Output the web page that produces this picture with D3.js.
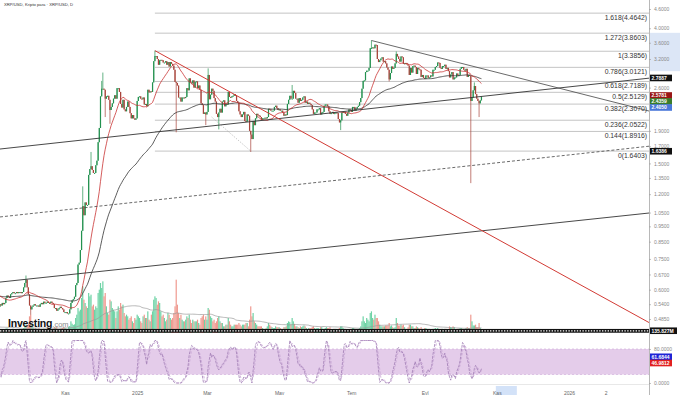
<!DOCTYPE html>
<html>
<head>
<meta charset="utf-8">
<script src="https://cdn.jsdelivr.net/npm/d3@7"></script>
<style>
  html, body { margin: 0; padding: 0; background: #fff; }
  svg { display: block; font-family: "Liberation Sans", Arial, sans-serif; }
</style>
</head>
<body>
<svg id="chart" width="680" height="395"></svg>
<script>
// daily closes from 2024-07-19 (first weeks sit left of the visible area, they feed the averages)
const startDate = "2024-07-19";
const closes = [
  // jul 19-31
  0.570,0.595,0.600,0.605,0.600,0.610,0.600,0.600,0.605,0.600,0.610,0.620,0.625,
  // aug
  0.570,0.560,0.530,0.520,0.500,0.520,0.550,0.620,0.580,0.570,
  0.550,0.570,0.570,0.570,0.560,0.570,0.580,0.600,0.600,0.600,
  0.600,0.590,0.610,0.600,0.590,0.590,0.570,0.570,0.560,0.560,0.560,
  // sep
  0.550,0.560,0.550,0.570,0.560,0.530,0.540,
  0.535,0.545,0.540,0.545,0.565,0.575,0.570,0.565,0.580,0.585,
  0.590,0.585,0.585,0.590,0.585,0.590,0.590,0.585,0.590,0.610,
  0.630,0.645,0.610,
  // oct
  0.580,0.535,0.520,0.530,0.535,0.540,0.535,0.535,0.535,0.530,
  0.540,0.545,0.540,0.550,0.545,0.545,0.550,0.545,0.545,0.550,
  0.545,0.540,0.525,0.525,0.515,0.520,0.525,0.530,0.525,0.520,0.510,
  // nov
  0.510,0.510,0.505,0.505,0.520,0.545,0.555,0.560,0.570,0.620,
  0.630,0.720,0.730,0.800,0.920,1.100,1.030,1.130,1.110,1.110,
  1.380,1.440,1.470,1.430,1.400,1.400,1.480,1.530,1.750,1.940,
  // dec
  2.44,2.58,2.58,2.56,2.40,2.44,2.45,2.38,2.21,2.26,
  2.32,2.40,2.46,2.40,2.59,2.59,2.52,2.31,2.25,2.38,
  2.22,2.19,2.26,2.35,2.26,2.16,2.08,2.13,2.08,2.06,2.08,
  // jan 2025
  2.36,2.43,2.44,2.40,2.39,2.42,2.30,2.31,2.27,2.56,
  2.51,2.53,2.52,2.70,3.15,3.27,3.27,3.20,3.07,3.17,
  3.18,3.17,3.12,3.12,3.15,3.07,3.13,3.03,3.13,3.09,3.05,
  // feb
  2.96,2.71,2.69,2.64,2.42,2.42,2.35,2.42,2.42,2.41,
  2.43,2.59,2.55,2.78,2.70,2.68,2.74,2.60,2.71,2.72,
  2.59,2.64,2.56,2.32,2.29,2.15,2.17,2.14,
  // mar
  2.18,2.85,2.39,2.47,2.58,2.54,2.41,2.35,2.15,2.10,
  2.17,2.23,2.17,2.35,2.37,2.27,2.31,2.30,2.52,2.43,
  2.42,2.44,2.45,2.48,2.45,2.36,2.33,2.19,2.14,2.10,2.14,
  // apr
  2.18,2.04,2.03,2.14,2.12,1.90,1.85,1.79,2.04,1.98,
  2.08,2.15,2.13,2.12,2.10,2.06,2.08,2.08,2.09,2.08,
  2.10,2.23,2.22,2.20,2.20,2.20,2.26,2.28,2.24,2.21,
  // may
  2.22,2.20,2.20,2.17,2.12,2.14,2.13,2.31,2.38,2.45,
  2.40,2.40,2.54,2.50,2.40,2.40,2.33,2.41,2.36,2.38,
  2.42,2.44,2.33,2.35,2.31,2.33,2.31,2.29,2.22,2.15,2.17,
  // jun
  2.17,2.22,2.22,2.24,2.14,2.17,2.18,2.28,2.30,2.30,
  2.27,2.19,2.15,2.16,2.18,2.15,2.16,2.17,2.16,2.07,
  2.02,2.05,2.17,2.18,2.18,2.15,2.12,2.17,2.22,2.21,
  // jul
  2.18,2.26,2.26,2.20,2.23,2.26,2.28,2.34,2.41,2.58,
  2.73,2.74,2.91,2.94,2.94,3.00,3.46,3.47,3.48,3.46,
  3.55,3.54,3.20,3.13,3.17,3.21,3.24,3.14,3.15,3.10,3.01,
  // aug
  2.96,2.76,2.89,3.03,2.98,3.00,3.10,3.32,3.26,3.20,
  3.14,3.26,3.24,3.09,3.10,3.11,3.08,3.05,2.85,3.00,
  2.90,3.04,3.05,3.02,2.87,3.00,2.97,2.96,2.81,2.85,2.79,
  // sep
  2.77,2.84,2.84,2.79,2.80,2.84,2.82,2.96,2.96,3.02,
  3.04,3.12,3.11,3.00,2.98,3.04,3.04,3.07,2.98,3.00,
  2.93,2.80,2.86,2.91,2.76,2.80,2.80,2.88,2.84,2.85,
  // oct
  2.98,3.02,3.02,2.96,2.94,2.98,2.81,2.85,2.83,2.36,
  2.42,2.55,2.63,2.48,2.40,2.36,2.32,2.37,2.436
];

// daily volume, millions
const volumes = [
  400,500,350,300,350,300,350,300,250,250,300,400,350,
  400,450,500,600,1000,700,600,1100,700,400,
  350,350,300,300,300,250,200,300,300,250,
  250,250,300,250,200,250,300,350,250,250,200,
  200,250,300,250,250,300,200,
  180,220,200,210,260,280,190,170,240,230,
  260,220,210,190,180,230,220,200,210,300,
  340,520,480,
  560,1000,1100,520,320,260,300,260,240,280,
  240,200,210,260,240,230,220,210,180,200,
  240,260,360,320,380,240,200,260,280,300,360,
  300,260,240,380,420,700,560,480,520,900,
  1100,1500,1300,1400,2100,2800,2000,1800,1600,1500,
  2400,2200,2300,1600,1700,1400,1600,1500,2400,2600,
  3000,2700,3100,2200,2400,1600,1200,1100,2000,1900,
  1500,1400,1300,900,1300,1600,1400,1800,1600,1700,
  1200,1000,1100,1000,800,900,1000,700,600,900,800,
  1100,1000,900,700,600,1000,1100,900,900,1300,
  800,700,1100,1300,2000,2200,2100,1700,1900,1800,
  1300,1000,1100,900,700,800,1200,1100,900,800,900,
  1200,1600,3200,1700,1200,900,1100,800,700,700,
  800,1000,900,1100,800,600,800,700,700,700,
  800,600,500,900,1000,1100,800,1000,
  800,1500,1400,1000,900,700,800,600,700,900,
  1000,700,600,600,400,400,500,500,900,700,
  500,400,400,500,500,500,500,600,500,400,500,
  500,500,600,600,400,800,1600,1000,1200,700,
  600,500,400,400,400,400,300,250,250,300,
  400,600,500,400,350,300,300,400,350,350,
  350,300,250,250,350,350,400,600,700,650,
  500,900,700,550,400,400,350,300,400,350,
  400,450,400,300,250,300,300,300,350,400,300,
  250,300,300,250,350,350,250,250,300,350,
  300,300,350,200,200,250,250,250,200,250,
  300,400,400,300,250,250,200,150,200,250,
  250,300,300,250,200,200,250,300,400,700,
  1000,700,600,900,800,700,1200,1300,900,800,
  1100,900,900,700,500,400,400,400,400,450,450,
  450,600,400,450,350,300,350,900,600,450,
  450,500,450,500,350,250,250,350,500,500,
  400,400,300,300,400,350,300,250,350,250,250,
  300,300,250,250,250,150,150,250,250,300,
  250,300,250,200,250,250,200,250,250,200,
  150,400,350,300,400,350,200,200,250,250,
  300,300,250,200,200,300,350,300,300,1100,
  700,450,450,500,350,350,600,300,135.827
];

// long wicks
const wickHighs = [
  ["2024-09-29",0.665],["2024-11-16",1.27],["2024-11-23",1.63],["2024-12-02",2.73],
  ["2024-12-03",2.90],["2025-01-16",3.40],["2025-03-02",2.99],["2025-05-12",2.65],
  ["2025-07-18",3.66],["2025-08-08",3.38],["2025-10-13",2.70]
];
const wickLows = [
  ["2024-08-05",0.43],["2024-10-03",0.50],["2024-12-05",2.10],["2024-12-09",2.00],
  ["2025-02-03",1.88],["2025-02-28",1.98],["2025-03-11",1.92],["2025-04-07",1.63],
  ["2025-06-22",1.91],["2025-08-02",2.72],["2025-10-10",1.30],["2025-10-17",2.10]
];

// fibonacci retracement
const fibStart = "2025-01-16";
const fibLevels = ["1.618","1.272","1","0.786","0.618","0.5","0.382","0.236","0.144","0"];
const fibPrices = [4.4642,3.8603,3.3856,3.0121,2.7189,2.5129,2.3070,2.0522,1.8916,1.6403];

// drawn trend lines: two anchors [date, price]
const trendRed  = [["2025-01-16",3.40],["2025-10-10",0.963]];
const trendRise = [["2024-09-07",1.665],["2025-10-10",2.418]];
const trendDash = [["2024-09-07",1.017],["2025-10-10",1.476]];
const trendLow  = [["2024-09-07",0.634],["2025-10-10",0.912]];
const trendTop  = [["2025-07-18",3.66],["2025-12-23",2.593]];
const trendDot  = [["2025-03-05",2.10],["2025-04-07",1.64]];

// axis
const priceTicks = [4.6,4.0,3.6,3.2,2.8,2.6,2.4,1.9,1.7,1.5,1.35,1.2,1.05,0.95,0.85,0.75,0.67,0.6,0.54,0.485];
const oscTicks = [0,80];
const monthTicks = ["2024-11-01","2025-01-01","2025-03-01","2025-05-01","2025-07-01","2025-09-01","2025-11-01","2026-01-01","2026-02-01"];
const monthLabels = ["Kas","2025","Mar","May","Tem","Eyl","Kas","2026","2"];

// values shown in the right-hand tags
const maTags = [2.7887];
const priceTags = [2.5781, 2.4359, 2.4050];
const lineTags = [1.6386];
const oscTags = [61.6844, 46.9812];

// ------------------------------------------------------------
const W = 680, H = 395, plotR = 649;
const parse = d3.timeParse("%Y-%m-%d");
const fmt = d3.timeFormat("%Y-%m-%d");
const svg = d3.select("#chart");

const x = d3.scaleTime()
  .domain([parse("2024-11-01"), parse("2026-01-01")])
  .range([65, 569]);
const y = d3.scaleLog().domain([0.485, 4.6]).range([319, 9]);
const yVol = d3.scaleLinear().domain([0, 3300]).range([333, 278]);
const yOsc = d3.scaleLinear().domain([0, 100]).range([383, 340.5]);

const t0 = parse(startDate);
const hiMap = new Map(wickHighs), loMap = new Map(wickLows);
const bars = closes.map((c, i) => {
  const date = d3.timeDay.offset(t0, i);
  const key = fmt(date);
  const open = i ? closes[i - 1] : c;
  return {
    date, open, close: c,
    high: Math.max(open, c, hiMap.get(key) || 0),
    low: Math.min(open, c, loMap.has(key) ? loMap.get(key) : Infinity),
    vol: volumes[i] || 0
  };
});

// indicators
function sma(arr, n) {
  return arr.map((v, i) => {
    if (i < n - 1) return null;
    const w = arr.slice(i - n + 1, i + 1);
    if (w.some(d => d == null)) return null;
    return d3.mean(w);
  });
}
function ema(arr, n) {
  // seeded with the first value
  const k = 2 / (n + 1);
  let e = arr[0];
  return arr.map(v => (e = v * k + e * (1 - k)));
}
function rsi(arr, n) {
  const out = arr.map(() => null);
  let g = 0, l = 0;
  for (let i = 1; i <= n; i++) {
    const d = arr[i] - arr[i - 1];
    if (d > 0) g += d; else l -= d;
  }
  g /= n; l /= n;
  out[n] = l === 0 ? 100 : 100 - 100 / (1 + g / l);
  for (let i = n + 1; i < arr.length; i++) {
    const d = arr[i] - arr[i - 1];
    g = (g * (n - 1) + Math.max(d, 0)) / n;
    l = (l * (n - 1) + Math.max(-d, 0)) / n;
    out[i] = l === 0 ? 100 : 100 - 100 / (1 + g / l);
  }
  return out;
}

const maRed = sma(closes, 20);
const maBlack = ema(closes, 100);
const volMa = sma(volumes, 50);
const rsiVals = rsi(closes, 14);
const stoch = rsiVals.map((v, i) => {
  if (v == null || i < 27) return null;
  const w = rsiVals.slice(i - 13, i + 1);
  const mn = d3.min(w), mx = d3.max(w);
  return mx === mn ? 50 : (v - mn) / (mx - mn) * 100;
});
const kLine = sma(stoch, 3);
const dLine = sma(kLine, 3);

// clips
const defs = svg.append("defs");
defs.append("clipPath").attr("id", "clipMain")
  .append("rect").attr("x", 0).attr("y", 0).attr("width", plotR).attr("height", 334);
defs.append("clipPath").attr("id", "clipOsc")
  .append("rect").attr("x", 0).attr("y", 337).attr("width", plotR).attr("height", 47);

// axis highlight boxes (UI)
svg.append("rect").attr("x", plotR + 1).attr("y", y(3.87)).attr("width", W - plotR)
  .attr("height", y(2.93) - y(3.87)).attr("fill", "#dce6f6");
svg.append("rect").attr("x", x(parse("2025-11-01")) - 1).attr("y", 386).attr("width", 21)
  .attr("height", 9).attr("fill", "#d3e2f8");

// title
svg.append("text").attr("x", 4).attr("y", 5.5).attr("font-size", 4.2).attr("fill", "#333")
  .text("XRP/USD, Kripto para · XRP/USD, D");

const main = svg.append("g").attr("clip-path", "url(#clipMain)");

// volume
main.append("g").selectAll("rect").data(bars).join("rect")
  .attr("x", d => x(d.date) - 0.6)
  .attr("width", 1.2)
  .attr("y", d => yVol(d.vol))
  .attr("height", d => yVol(0) - yVol(d.vol))
  .attr("fill", d => d.close >= d.open ? "#6fd3a6" : "#ef9a90");

main.append("path")
  .datum(bars.map((b, i) => [b.date, volMa[i]]))
  .attr("fill", "none").attr("stroke", "#9a9a9a").attr("stroke-width", 0.7)
  .attr("d", d3.line().defined(d => d[1] != null).x(d => x(d[0])).y(d => yVol(d[1])));

// fib lines + labels
const fibX0 = x(parse(fibStart));
const fib = main.append("g");
fib.selectAll("line").data(fibPrices).join("line")
  .attr("x1", fibX0).attr("x2", plotR)
  .attr("y1", d => y(d)).attr("y2", d => y(d))
  .attr("stroke", "#bdbdbd").attr("stroke-width", 0.9);
fib.selectAll("text").data(fibPrices).join("text")
  .attr("x", plotR - 2).attr("y", d => y(d) + 6.6)
  .attr("text-anchor", "end").attr("font-size", 6.8).attr("fill", "#333")
  .text((d, i) => `${fibLevels[i]}(${d.toFixed(4)})`);

// candles
const up = "#23914f", down = "#a8443b";
const cg = main.append("g");
cg.selectAll("line").data(bars).join("line")
  .attr("x1", d => x(d.date)).attr("x2", d => x(d.date))
  .attr("y1", d => y(d.high)).attr("y2", d => y(d.low))
  .attr("stroke", d => d.close >= d.open ? up : down).attr("stroke-width", 0.7);
cg.selectAll("rect").data(bars).join("rect")
  .attr("x", d => x(d.date) - 0.6).attr("width", 1.2)
  .attr("y", d => y(Math.max(d.open, d.close)))
  .attr("height", d => Math.max(1, y(Math.min(d.open, d.close)) - y(Math.max(d.open, d.close))))
  .attr("fill", d => d.close >= d.open ? up : down);

// moving averages
const maLine = vals => d3.line().defined((d, i) => vals[i] != null)
  .x(d => x(d.date)).y((d, i) => y(vals[i]));
main.append("path").datum(bars).attr("fill", "none").attr("stroke", "#333")
  .attr("stroke-width", 0.8).attr("d", maLine(maBlack));
main.append("path").datum(bars).attr("fill", "none").attr("stroke", "#c93434")
  .attr("stroke-width", 0.8).attr("d", maLine(maRed));

// trend lines
function drawTrend(anchors, mode, stroke, width, dash) {
  const p1 = [x(parse(anchors[0][0])), y(anchors[0][1])];
  const p2 = [x(parse(anchors[1][0])), y(anchors[1][1])];
  const k = (p2[1] - p1[1]) / (p2[0] - p1[0]);
  const xa = mode === "both" ? 0 : p1[0];
  const xb = mode === "segment" ? p2[0] : plotR;
  main.append("line")
    .attr("x1", xa).attr("y1", p1[1] + k * (xa - p1[0]))
    .attr("x2", xb).attr("y2", p1[1] + k * (xb - p1[0]))
    .attr("stroke", stroke).attr("stroke-width", width)
    .attr("stroke-dasharray", dash || null);
}
drawTrend(trendRise, "both", "#333", 0.9);
drawTrend(trendDash, "both", "#444", 0.8, "3,2");
drawTrend(trendLow, "both", "#333", 0.9);
drawTrend(trendTop, "right", "#444", 0.8);
drawTrend(trendDot, "segment", "#999", 0.7, "1,1.5");
drawTrend(trendRed, "right", "#d23b35", 1);

// current volume line (separator)
const yCur = yVol(volumes[volumes.length - 1]);
svg.append("rect").attr("x", 0).attr("y", yCur - 1.8).attr("width", plotR).attr("height", 3.8).attr("fill", "#111");
svg.append("line").attr("x1", 0).attr("x2", plotR).attr("y1", yCur + 0.1).attr("y2", yCur + 0.1)
  .attr("stroke", "#fff").attr("stroke-width", 1.1).attr("stroke-dasharray", "1.4,1.4");

// logo
const logo = svg.append("text").attr("x", 8).attr("y", 326.6);
logo.append("tspan").attr("font-size", 10.5).attr("font-weight", "bold").attr("fill", "#111")
  .attr("letter-spacing", -0.2).text("Investing");
logo.append("tspan").attr("font-size", 7.5).attr("fill", "#8a8a8a").text(".com");

// oscillator panel
const osc = svg.append("g").attr("clip-path", "url(#clipOsc)");
osc.append("rect").attr("x", 0).attr("width", plotR)
  .attr("y", yOsc(80)).attr("height", yOsc(20) - yOsc(80)).attr("fill", "#e4ccea");
[80, 20].forEach(v => osc.append("line").attr("x1", 0).attr("x2", plotR)
  .attr("y1", yOsc(v)).attr("y2", yOsc(v)).attr("stroke", "#cfa9d8")
  .attr("stroke-width", 0.6).attr("stroke-dasharray", "2,2"));
const oscLine = vals => d3.line().defined((d, i) => vals[i] != null)
  .x(d => x(d.date)).y((d, i) => yOsc(vals[i]));
osc.append("path").datum(bars).attr("fill", "none").attr("stroke", "#c8a6d4")
  .attr("stroke-width", 0.8).attr("stroke-dasharray", "2.5,1.5").attr("d", oscLine(dLine));
osc.append("path").datum(bars).attr("fill", "none").attr("stroke", "#a07bb4")
  .attr("stroke-width", 0.8).attr("stroke-dasharray", "3,1").attr("d", oscLine(kLine));

// bottom axis
svg.append("line").attr("x1", 0).attr("x2", plotR).attr("y1", 384.5).attr("y2", 384.5)
  .attr("stroke", "#d8d8d8").attr("stroke-width", 0.6);
const ax = svg.append("g").attr("transform", "translate(0,386)")
  .call(d3.axisBottom(x).tickValues(monthTicks.map(parse))
    .tickFormat((d, i) => monthLabels[i]).tickSize(0).tickPadding(5));
ax.select(".domain").remove();
ax.selectAll("text").attr("font-size", 5).attr("fill", "#666")
  .attr("font-family", "'Liberation Sans', Arial, sans-serif");

// tag positions (needed to keep tick labels clear of them)
const tagList = [];
maTags.forEach(v => tagList.push([y(v), v.toFixed(4), "#111"]));
const tagColors = ["#9a1717", "#3a7d2c", "#4a78d9"];
let yy = y(priceTags[0]) + 6.7;
priceTags.forEach((v, i) => { tagList.push([yy, v.toFixed(4), tagColors[i]]); yy += 6; });
lineTags.forEach(v => tagList.push([y(v), v.toFixed(4), "#111"]));

// right axes
svg.append("line").attr("x1", plotR + 0.5).attr("x2", plotR + 0.5).attr("y1", 0).attr("y2", H)
  .attr("stroke", "#999").attr("stroke-width", 0.7);
const visibleTicks = priceTicks.filter(t => tagList.every(tg => Math.abs(y(t) - tg[0]) > 5));
const ar = svg.append("g").attr("transform", `translate(${plotR},0)`)
  .call(d3.axisRight(y).tickValues(visibleTicks).tickFormat(d3.format(".4f")).tickSize(2).tickPadding(3));
const ao = svg.append("g").attr("transform", `translate(${plotR},0)`)
  .call(d3.axisRight(yOsc).tickValues(oscTicks).tickFormat(d3.format(".4f")).tickSize(2).tickPadding(3));
[ar, ao].forEach(g => {
  g.select(".domain").remove();
  g.selectAll("line").attr("stroke", "#999").attr("stroke-width", 0.6);
  g.selectAll("text").attr("font-size", 5).attr("fill", "#888")
    .attr("font-family", "'Liberation Sans', Arial, sans-serif");
});

// value tags
function tag(yc, label, fill, w) {
  const g = svg.append("g");
  g.append("rect").attr("x", plotR + 1).attr("y", yc - 3.3).attr("width", w || 22)
    .attr("height", 6.6).attr("fill", fill);
  g.append("text").attr("x", plotR + 2.5).attr("y", yc + 1.8).attr("font-size", 5)
    .attr("font-weight", "bold").attr("fill", "#fff").text(label);
}
tagList.forEach(t => tag(t[0], t[1], t[2]));
tag(yCur, volumes[volumes.length - 1].toFixed(3) + "M", "#111", 27);
tag(yOsc(oscTags[0]), oscTags[0].toFixed(4), "#1f24d6");
tag(yOsc(oscTags[1]), oscTags[1].toFixed(4), "#e12020");
</script>
</body>
</html>
